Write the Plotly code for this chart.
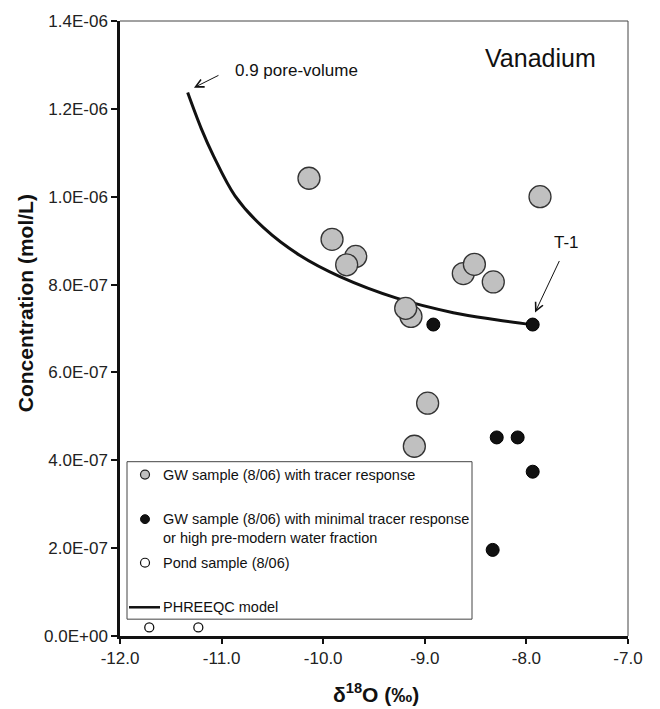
import plotly.graph_objects as go

# ---------------- data ----------------
gw_tracer_x = [-10.14, -7.866, -9.913, -9.68, -9.769, -8.621, -8.512, -8.326, -9.136, -9.188, -8.972, -9.103]
gw_tracer_y = [1.042e-6, 1.000e-6, 0.903e-6, 0.864e-6, 0.845e-6, 0.825e-6, 0.846e-6, 0.806e-6, 0.7275e-6, 0.746e-6, 0.530e-6, 0.432e-6]

gw_minimal_x = [-8.916, -7.938, -8.292, -8.086, -7.938, -8.332]
gw_minimal_y = [0.709e-6, 0.709e-6, 0.452e-6, 0.452e-6, 0.374e-6, 0.196e-6]

pond_x = [-11.712, -11.229]
pond_y = [0.0196e-6, 0.0196e-6]

model_x = [-11.334, -11.2, -11.08, -10.868, -10.59, -10.228, -9.835, -9.277, -8.72, -8.3, -7.938]
model_y = [1.237e-6, 1.155e-6, 1.093e-6, 1.002e-6, 0.930e-6, 0.866e-6, 0.818e-6, 0.769e-6, 0.736e-6, 0.720e-6, 0.7086e-6]

x_ticks = [-12, -11, -10, -9, -8, -7]
x_ticktext = ["-12.0", "-11.0", "-10.0", "-9.0", "-8.0", "-7.0"]
y_ticks = [0, 2e-7, 4e-7, 6e-7, 8e-7, 1.0e-6, 1.2e-6, 1.4e-6]
y_ticktext = ["0.0E+00", "2.0E-07", "4.0E-07", "6.0E-07", "8.0E-07", "1.0E-06", "1.2E-06", "1.4E-06"]

legend_labels = [
    "GW sample (8/06) with tracer response",
    "GW sample (8/06) with minimal tracer response<br>or high pre-modern water fraction",
    "Pond sample (8/06)",
    "PHREEQC model",
]

# ---------------- layout geometry ----------------
W, H = 660, 709
L, R, T, B = 120, 32, 15, 73
PW, PH = W - L - R, H - T - B
FONT = "Arial, Liberation Sans, sans-serif"


def px(xpix):
    return (xpix - L) / PW


def py(ypix):
    return (H - B - ypix) / PH


fig = go.Figure()

fig.add_trace(go.Scatter(
    x=model_x, y=model_y, mode="lines", line=dict(color="#111111", width=3, shape="spline", smoothing=1.0),
    showlegend=False, hoverinfo="skip"))

fig.add_trace(go.Scatter(
    x=gw_tracer_x, y=gw_tracer_y, mode="markers",
    marker=dict(size=22, color="#c0c0c0", line=dict(color="#333333", width=1.3)),
    showlegend=False))

fig.add_trace(go.Scatter(
    x=gw_minimal_x, y=gw_minimal_y, mode="markers",
    marker=dict(size=13, color="#111111", line=dict(color="#000000", width=1)),
    showlegend=False))

fig.add_trace(go.Scatter(
    x=pond_x, y=pond_y, mode="markers",
    marker=dict(size=9, color="white", line=dict(color="#111111", width=1.3)),
    showlegend=False, cliponaxis=False))

shapes = []
# top & right thin frame
shapes.append(dict(type="line", xref="paper", yref="paper", x0=0, x1=1, y0=1, y1=1,
                   line=dict(color="#444444", width=1)))
shapes.append(dict(type="line", xref="paper", yref="paper", x0=1, x1=1, y0=0, y1=1,
                   line=dict(color="#444444", width=1)))

# legend box
shapes.append(dict(type="rect", xref="paper", yref="paper",
                   x0=px(127), x1=px(472), y0=py(619), y1=py(460),
                   line=dict(color="#444444", width=1), fillcolor="white", layer="above"))


def circle(cx, cy, d, fill, lw=1.0, lc="#111111"):
    r = d / 2
    return dict(type="circle", xref="paper", yref="paper",
                x0=px(cx - r), x1=px(cx + r), y0=py(cy + r), y1=py(cy - r),
                fillcolor=fill, line=dict(color=lc, width=lw), layer="above")


shapes.append(circle(145, 473, 9, "#c0c0c0", 1.2, "#222222"))
shapes.append(circle(145, 518, 9, "#111111", 1.0))
shapes.append(circle(145, 562, 9, "white", 1.2))
shapes.append(dict(type="line", xref="paper", yref="paper", x0=px(129), x1=px(160), y0=py(607), y1=py(607),
                   line=dict(color="#111111", width=2.5), layer="above"))

annotations = []
leg_y = [473, 527, 562, 607]
for lab, yy in zip(legend_labels, leg_y):
    annotations.append(dict(xref="paper", yref="paper", x=px(161), y=py(yy), text=lab,
                            showarrow=False, xanchor="left", yanchor="middle", align="left",
                            font=dict(family=FONT, size=14.5, color="#111111")))

# arrows
annotations.append(dict(x=-11.272, y=1.2483e-6, xref="x", yref="y", text="", showarrow=True,
                        ax=26, ay=-13, arrowhead=5, arrowsize=1.6, arrowwidth=1, arrowcolor="#111111"))
annotations.append(dict(x=-7.915, y=0.7365e-6, xref="x", yref="y", text="", showarrow=True,
                        ax=25, ay=-53, arrowhead=5, arrowsize=1.6, arrowwidth=1, arrowcolor="#111111"))

annotations.append(dict(x=-10.891, y=1.2873e-6, xref="x", yref="y", text="0.9 pore-volume",
                        showarrow=False, xanchor="left", yanchor="middle",
                        font=dict(family=FONT, size=17, color="#111111")))
annotations.append(dict(x=-7.745, y=0.895e-6, xref="x", yref="y", text="T-1",
                        showarrow=False, xanchor="left", yanchor="middle",
                        font=dict(family=FONT, size=17, color="#111111")))
annotations.append(dict(x=-8.43, y=1.3166e-6, xref="x", yref="y", text="Vanadium",
                        showarrow=False, xanchor="left", yanchor="middle",
                        font=dict(family=FONT, size=25, color="#111111")))

# axis titles
annotations.append(dict(xref="paper", yref="paper", x=px(25), y=py(300), text="<b>Concentration (mol/L)</b>",
                        textangle=-90, showarrow=False, xanchor="center", yanchor="middle",
                        font=dict(family=FONT, size=21, color="#111111")))
annotations.append(dict(xref="paper", yref="paper", x=px(376), y=py(694), text="<b>δ<sup>18</sup>O (‰)</b>",
                        showarrow=False, xanchor="center", yanchor="middle",
                        font=dict(family=FONT, size=21, color="#111111")))

fig.update_layout(
    width=W, height=H,
    margin=dict(l=L, r=R, t=T, b=B, pad=0),
    paper_bgcolor="white", plot_bgcolor="white",
    showlegend=False,
    shapes=shapes, annotations=annotations,
    font=dict(family=FONT, size=17, color="#111111"),
)

fig.update_xaxes(range=[-12, -7], tickvals=x_ticks, ticktext=x_ticktext, showgrid=False, zeroline=False,
                 showline=True, linecolor="#111111", linewidth=2.5, ticks="outside", ticklen=5,
                 tickwidth=1.5, tickcolor="#111111", tickfont=dict(family=FONT, size=17, color="#222222"))
fig.update_yaxes(range=[0, 1.4e-6], tickvals=y_ticks, ticktext=y_ticktext, showgrid=False, zeroline=False,
                 showline=True, linecolor="#111111", linewidth=2.5, ticks="outside", ticklen=6,
                 tickwidth=1.5, tickcolor="#111111", tickfont=dict(family=FONT, size=17, color="#222222"))

fig.write_html("out.html")
